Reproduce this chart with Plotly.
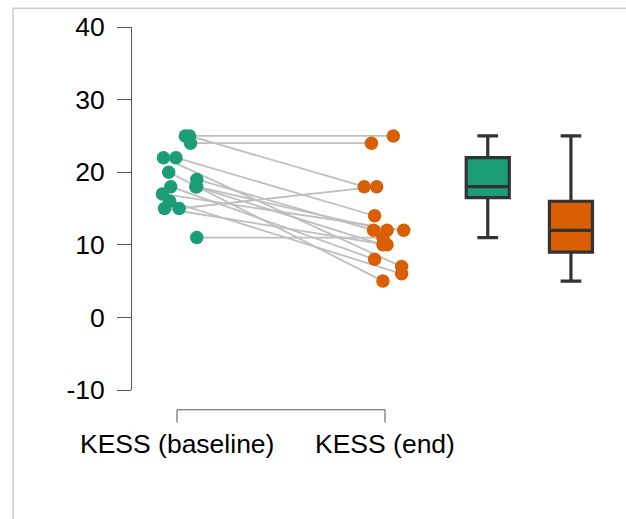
import plotly.graph_objects as go

# ---- data ----
categories = ["KESS (baseline)", "KESS (end)"]
baseline = [25, 25, 24, 22, 22, 20, 19, 18, 18, 18, 17, 16, 15, 15, 11]
end = [25, 18, 24, 7, 14, 5, 12, 12, 8, 10, 12, 6, 10, 18, 11]
# horizontal jitter of each point (in category units)
jitter_baseline = [0.04, 0.06, 0.065, -0.065, -0.005, -0.04, 0.095, 0.095, -0.03, 0.09, -0.07, -0.035, -0.06, 0.01, 0.095]
jitter_end = [0.04, -0.10, -0.065, 0.08, -0.05, -0.01, -0.055, 0.01, -0.05, -0.01, 0.09, 0.08, 0.01, -0.04, -0.01]
y_ticks = [-10, 0, 10, 20, 30, 40]
y_tick_labels = ["-10", "0", "10", "20", "30", "40"]

GREEN = "#1b9e77"
ORANGE = "#d95f02"
FONT = "Liberation Sans, Arial, sans-serif"

pos = [1, 2]
xb = [pos[0] + j for j in jitter_baseline]
xe = [pos[1] + j for j in jitter_end]

fig = go.Figure()

# connecting lines
lx, ly = [], []
for a, b, ya, yb in zip(xb, xe, baseline, end):
    lx += [a, b, None]
    ly += [ya, yb, None]
fig.add_trace(go.Scatter(x=lx, y=ly, mode="lines",
                         line=dict(color="#bfbfbf", width=1.8),
                         hoverinfo="skip", showlegend=False))

fig.add_trace(go.Scatter(x=xb, y=baseline, mode="markers",
                         marker=dict(color=GREEN, size=13.5, line=dict(width=0)),
                         showlegend=False, name=categories[0]))
fig.add_trace(go.Scatter(x=xe, y=end, mode="markers",
                         marker=dict(color=ORANGE, size=13.5, line=dict(width=0)),
                         showlegend=False, name=categories[1]))

# box plots
box_w = 0.207
fig.add_trace(go.Box(y=baseline, x0=2.494, width=box_w, boxpoints=False,
                     quartilemethod="inclusive", fillcolor=GREEN,
                     line=dict(color="#333333", width=3.2), whiskerwidth=0.48,
                     showlegend=False, name=categories[0]))
fig.add_trace(go.Box(y=end, x0=2.894, width=box_w, boxpoints=False,
                     quartilemethod="inclusive", fillcolor=ORANGE,
                     line=dict(color="#333333", width=3.2), whiskerwidth=0.48,
                     showlegend=False, name=categories[1]))

W, H = 626, 519
L, R, T, B = 132, 16, 23, 129
plot_h = H - T - B

def py(pix):
    return (H - B - pix) / plot_h

shapes = [
    # outer frame
    dict(type="rect", xref="paper", yref="paper",
         x0=-(L - 13) / (W - L - R), x1=1.2, y0=-0.6, y1=py(4),
         line=dict(color="#cccccc", width=1.5), fillcolor="rgba(0,0,0,0)", layer="below"),
    # x bracket
    dict(type="line", xref="x", yref="paper", x0=pos[0], x1=pos[1], y0=py(410), y1=py(410),
         line=dict(color="#555555", width=1)),
    dict(type="line", xref="x", yref="paper", x0=pos[0], x1=pos[0], y0=py(410), y1=py(423),
         line=dict(color="#555555", width=1)),
    dict(type="line", xref="x", yref="paper", x0=pos[1], x1=pos[1], y0=py(410), y1=py(423),
         line=dict(color="#555555", width=1)),
]

annotations = [
    dict(x=p, y=py(427), xref="x", yref="paper", text=c, showarrow=False,
         xanchor="center", yanchor="top", font=dict(family=FONT, size=26.5, color="black"))
    for p, c in zip(pos, categories)
]

x_min = pos[0] - (177 - L) / 208
x_max = x_min + (W - L - R) / 208

fig.update_layout(
    width=W, height=H,
    margin=dict(l=L, r=R, t=T, b=B, pad=0),
    paper_bgcolor="white", plot_bgcolor="white",
    shapes=shapes, annotations=annotations,
    xaxis=dict(range=[x_min, x_max], visible=False),
    yaxis=dict(range=[-10, 40], tickvals=y_ticks, ticktext=y_tick_labels,
               ticks="outside", ticklen=14, tickcolor="#555555", tickwidth=1,
               showline=True, linecolor="#555555", linewidth=1,
               showgrid=False, zeroline=False, ticklabelstandoff=7,
               tickfont=dict(family=FONT, size=26.5, color="black")),
    showlegend=False,
)

fig.write_html("out.html", config={"displayModeBar": False},
               post_script="document.body.style.margin='0';document.body.style.overflow='hidden';")
